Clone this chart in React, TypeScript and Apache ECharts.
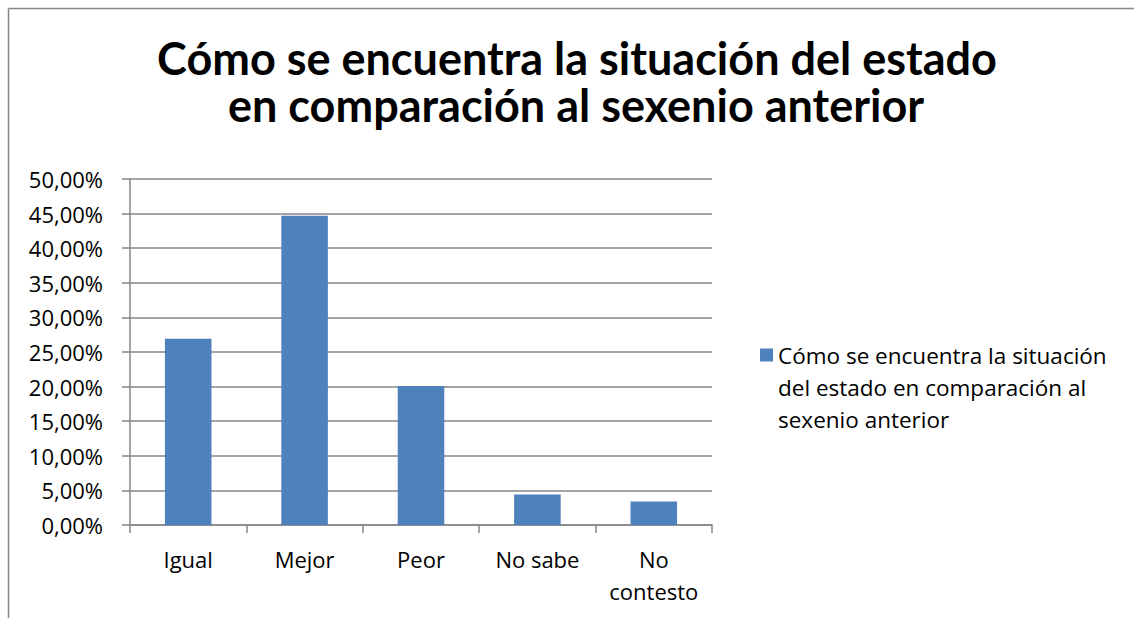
import React, { useEffect, useRef } from "react";
import * as echarts from "echarts";

const categories = ["Igual", "Mejor", "Peor", "No sabe", "No\ncontesto"];
const values = [0.269, 0.447, 0.201, 0.044, 0.034];
const seriesName = "Cómo se encuentra la situación del estado en comparación al sexenio anterior";
const legendLines = ["Cómo se encuentra la situación", "del estado en comparación al", "sexenio anterior"];
const titleLines = ["Cómo se encuentra la situación del estado", "en comparación al sexenio anterior"];

const FONT = "Open Sans";
const TFONT = "Lato";
const GRAY = "#868686";

export default function App() {
  const ref = useRef<HTMLDivElement>(null);
  useEffect(() => {
    const chart = echarts.init(ref.current!, undefined, { renderer: "svg" });
    const titleStyle = { fontFamily: TFONT, fontWeight: "bold", fontSize: 45, lineHeight: 45, color: "#000" };
    chart.setOption({
      animation: false,
      backgroundColor: "#ffffff",
      textStyle: { fontFamily: FONT },
      title: [
        { text: titleLines[0], left: 577, top: 35, textAlign: "center", padding: 0, textStyle: titleStyle },
        { text: titleLines[1], left: 576, top: 82, textAlign: "center", padding: 0, textStyle: titleStyle },
      ],
      legend: {
        orient: "vertical",
        left: 755,
        top: 270,
        itemWidth: 13,
        itemHeight: 13,
        itemGap: 0,
        icon: "rect",
        formatter: () => "\n\n" + legendLines.join("\n"),
        textStyle: { fontFamily: FONT, fontSize: 22.5, lineHeight: 32, color: "#000" },
        data: [seriesName],
      },
      grid: { left: 130, right: 422, top: 179, bottom: 93, containLabel: false },
      xAxis: {
        type: "category",
        data: categories,
        axisLine: { lineStyle: { color: GRAY, width: 1.5 } },
        axisTick: { show: true, length: 8, lineStyle: { color: GRAY, width: 1.5 } },
        axisLabel: { fontFamily: FONT, fontSize: 22, color: "#000", margin: 18, lineHeight: 32, interval: 0 },
      },
      yAxis: {
        type: "value",
        min: 0,
        max: 0.5,
        interval: 0.05,
        axisLine: { show: true, lineStyle: { color: GRAY, width: 1.5 } },
        axisTick: { show: true, length: 8, lineStyle: { color: GRAY, width: 1.5 } },
        splitLine: { show: true, lineStyle: { color: GRAY, width: 1.5 } },
        axisLabel: {
          fontFamily: FONT,
          fontSize: 22,
          color: "#000",
          margin: 27,
          formatter: (v: number) => (v * 100).toFixed(2).replace(".", ",") + "%",
        },
      },
      series: [
        {
          name: seriesName,
          type: "bar",
          data: values,
          barWidth: "40%",
          itemStyle: { color: "#4f81bd" },
        },
      ],
      graphic: [
        { type: "line", shape: { x1: 8.5, y1: 8.5, x2: 1134, y2: 8.5 }, style: { stroke: GRAY, lineWidth: 1.5 } },
        { type: "line", shape: { x1: 8.5, y1: 8.5, x2: 8.5, y2: 618 }, style: { stroke: GRAY, lineWidth: 1.5 } },
      ],
    });
    return () => chart.dispose();
  }, []);
  return <div ref={ref} style={{ position: "fixed", left: 0, top: 0, width: 1134, height: 618 }} />;
}
